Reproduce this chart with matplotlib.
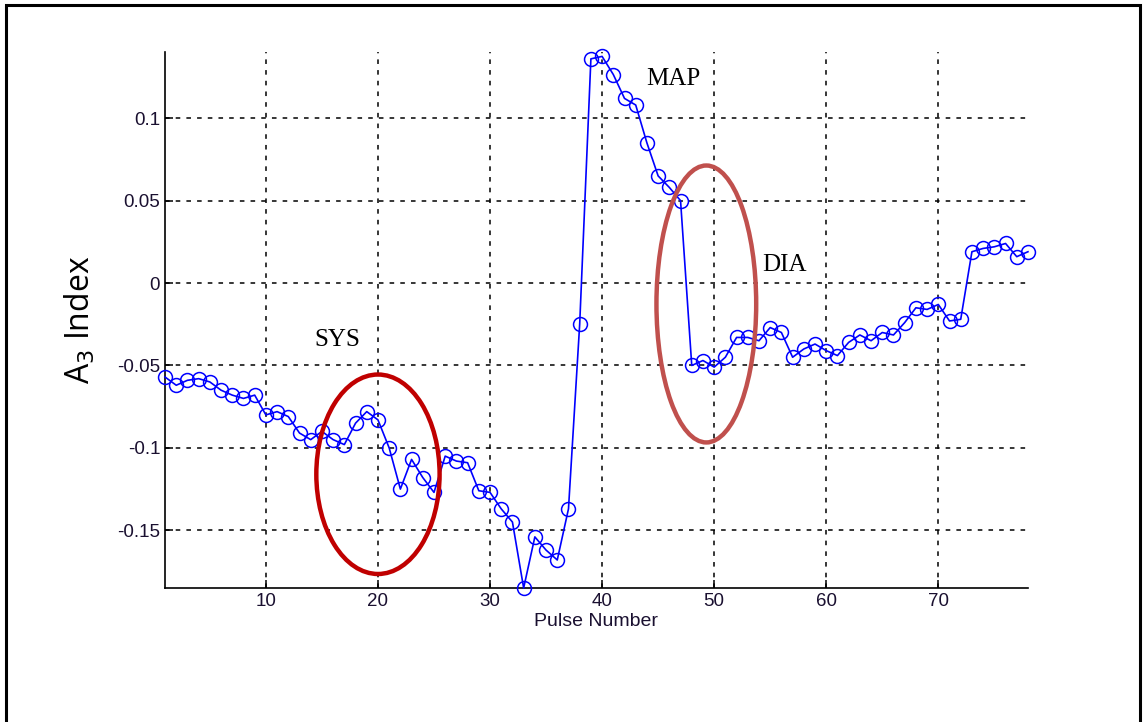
import numpy as np
import matplotlib.pyplot as plt
from matplotlib.patches import Ellipse, Rectangle

# A3 index per pulse
pulse = np.arange(1, 79)
a3_index = [
    -0.057, -0.062, -0.059, -0.058, -0.060, -0.065, -0.068, -0.070, -0.068, -0.080,
    -0.078, -0.081, -0.091, -0.095, -0.090, -0.095, -0.098, -0.085, -0.078, -0.083,
    -0.100, -0.125, -0.107, -0.118, -0.127, -0.105, -0.108, -0.109, -0.126, -0.127,
    -0.137, -0.145, -0.185, -0.154, -0.162, -0.168, -0.137, -0.025, 0.136, 0.1375,
    0.1265, 0.112, 0.108, 0.085, 0.065, 0.058, 0.050, -0.050, -0.047, -0.051,
    -0.045, -0.033, -0.033, -0.035, -0.027, -0.030, -0.045, -0.040, -0.037, -0.041,
    -0.044, -0.036, -0.0315, -0.035, -0.030, -0.0315, -0.024, -0.015, -0.016, -0.013,
    -0.023, -0.022, 0.019, 0.021, 0.022, 0.024, 0.016, 0.019,
]
x_ticks = [10, 20, 30, 40, 50, 60, 70]
y_ticks = [-0.15, -0.1, -0.05, 0, 0.05, 0.1]
y_tick_labels = ['-0.15', '-0.1', '-0.05', '0', '0.05', '0.1']

# phase labels and the ellipses around them (x, y, width, height)
phases = ['SYS', 'MAP', 'DIA']
phase_pos = [(16.4, -0.0345), (46.4, 0.124), (56.3, 0.011)]
sys_ellipse = (20.0, -0.116, 11.0, 0.121)
dia_ellipse = (49.3, -0.0127, 8.9, 0.168)

fig = plt.figure(figsize=(11.46, 7.22), dpi=100)
fig.patches.append(Rectangle((6 / 1146, -0.05), 1134 / 1146, 1 - 5 / 722 + 0.05,
                             transform=fig.transFigure, fill=False,
                             edgecolor='black', linewidth=2.2))
ax = fig.add_axes([0.144, 0.1856, 0.753, 0.742])

ax.plot(pulse, a3_index, color='#0000ff', linewidth=1.2, marker='o',
        markersize=10, markerfacecolor='none', markeredgecolor='#0000ff',
        markeredgewidth=1.1, zorder=3, clip_on=False)

ax.set_xlim(1, 78)
ax.set_ylim(-0.185, 0.14)
ax.set_xticks(x_ticks)
ax.set_yticks(y_ticks)
ax.set_yticklabels(y_tick_labels)
ax.grid(True, color='black', linestyle=(0, (3, 4)), linewidth=1.1)

ax.spines['top'].set_visible(False)
ax.spines['right'].set_visible(False)
for s in ['left', 'bottom']:
    ax.spines[s].set_linewidth(1.2)
ax.tick_params(direction='in', length=6, width=1.1, colors='black',
               labelcolor='#1a1030', labelsize=13.5)
for lab in ax.get_xticklabels() + ax.get_yticklabels():
    lab.set_family('Liberation Sans')

ax.set_xlabel('Pulse Number', fontsize=14, family='Liberation Sans',
              color='#1a1030', labelpad=2)
ax.set_ylabel('A$_3$ Index', fontsize=23, family='Open Sans', labelpad=14)

for name, (tx, ty) in zip(phases, phase_pos):
    ax.text(tx, ty, name, fontsize=18, family='Liberation Serif',
            ha='center', va='center', color='black')

for (cx, cy, w, h), col in [(sys_ellipse, '#c00000'), (dia_ellipse, '#c0504d')]:
    ax.add_patch(Ellipse((cx, cy), w, h, fill=False, edgecolor=col,
                         linewidth=3.2, clip_on=False, zorder=4))

fig.savefig('out.png', dpi=100)
